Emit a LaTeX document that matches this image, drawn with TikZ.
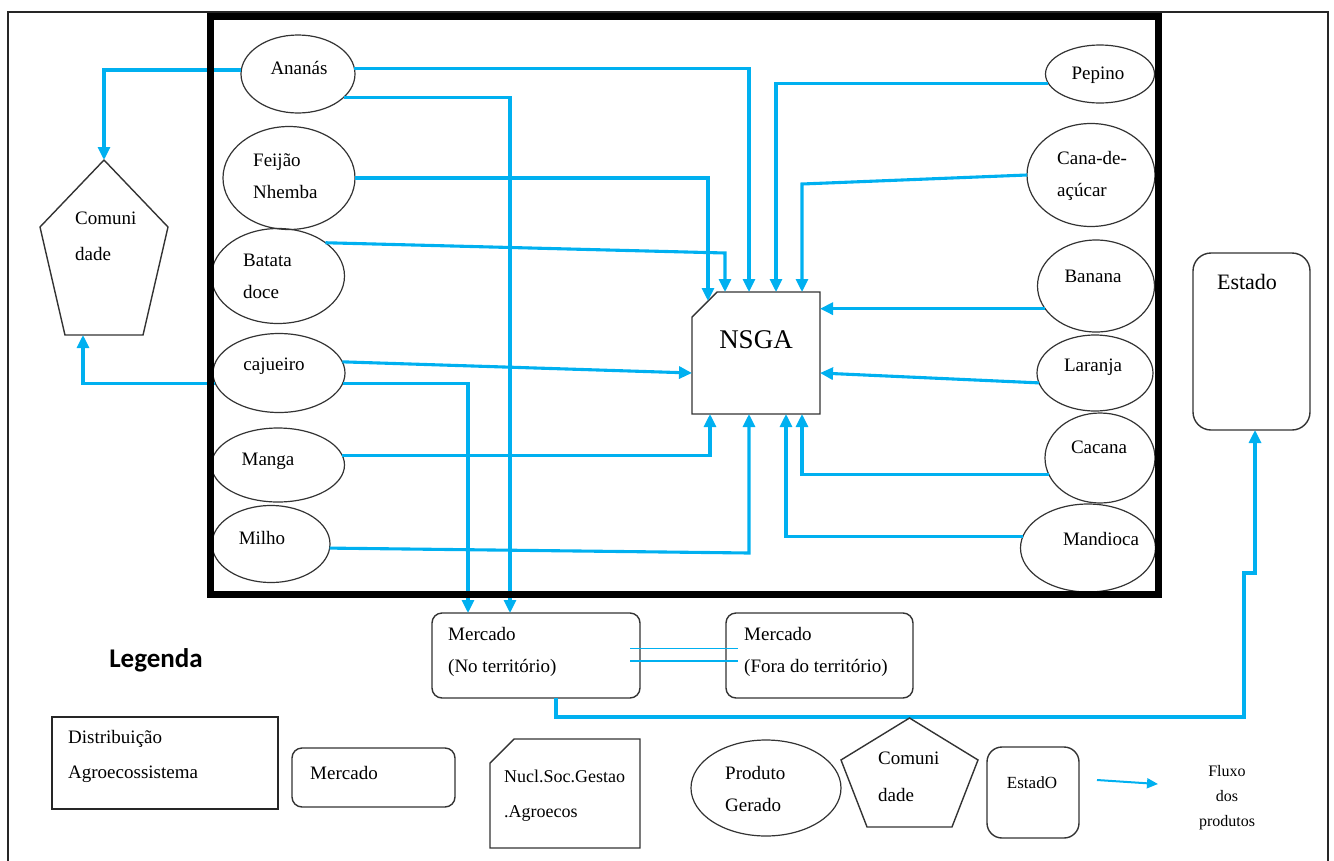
\documentclass[tikz,border=0pt]{standalone}
\usepackage{fontspec}
\setmainfont{Liberation Serif}
\newfontfamily\legfont{Carlito}
\usetikzlibrary{arrows.meta,calc,shapes.geometric}
\definecolor{flowblue}{HTML}{00B0F0}

\begin{document}
\begin{tikzpicture}[x=1pt, y=-1pt]
\tikzset{ >={Triangle[length=13pt,width=12pt]},
  flow/.style={->, draw=flowblue, line width=3.1pt},
  link/.style={draw=flowblue, line width=1.4pt},
  crop/.style={ellipse, draw=black!80, line width=1.2pt, inner sep=0pt, outer sep=0pt},
  rbox/.style={rectangle, rounded corners=10pt, draw=black!80, line width=1.4pt, inner sep=0pt, outer sep=0pt},
  hold/.style={rectangle, inner sep=0pt, outer sep=0pt},
  outline/.style={draw=black!80, line width=1.4pt},
  lbl/.style={font=\fontsize{19}{32}\selectfont, inner sep=0pt, align=left},
}

\useasboundingbox (0,0) rectangle (1334,860);
\draw [line width=1.2pt, black!85] (8,12) rectangle (1328,900);

% produtos do agroecossistema
\node [crop, minimum width=114pt, minimum height=78pt]  (ananas)   at (298,74)  {};
\node [crop, minimum width=132pt, minimum height=103pt] (feijao)   at (289,178) {};
\node [crop, minimum width=133pt, minimum height=95pt]  (batata)   at (278,276) {};
\node [crop, minimum width=132pt, minimum height=79pt]  (cajueiro) at (279,373) {};
\node [crop, minimum width=133pt, minimum height=74pt]  (manga)    at (278,465) {};
\node [crop, minimum width=118pt, minimum height=77pt]  (milho)    at (271,544) {};

\node [crop, minimum width=109pt, minimum height=58pt]  (pepino)   at (1100,74)  {};
\node [crop, minimum width=128pt, minimum height=103pt] (cana)     at (1091,175) {};
\node [crop, minimum width=117pt, minimum height=92pt]  (banana)   at (1096,286) {};
\node [crop, minimum width=116pt, minimum height=76pt]  (laranja)  at (1095,373) {};
\node [crop, minimum width=110pt, minimum height=90pt]  (cacana)   at (1100,458) {};
\node [crop, minimum width=135pt, minimum height=88pt]  (mandioca) at (1088,548) {};

\node [lbl] (ananas-t)   at (299,68)  {Ananás};
\node [lbl, anchor=west] (feijao-t) at (253,176) {Feijão\\Nhemba};
\node [lbl, anchor=west] (batata-t) at (243,276) {Batata\\doce};
\node [lbl] (cajueiro-t) at (274,366) {cajueiro};
\node [lbl] (manga-t)    at (268,461) {Manga};
\node [lbl] (milho-t)    at (262,538) {Milho};
\node [lbl] (pepino-t)   at (1098,75) {Pepino};
\node [lbl, anchor=west] (cana-t) at (1057,176) {Cana-de-\\açúcar};
\node [lbl] (banana-t)   at (1093,276) {Banana};
\node [lbl] (laranja-t)  at (1093,367) {Laranja};
\node [lbl] (cacana-t)   at (1099,447) {Cacana};
\node [lbl] (mandioca-t) at (1101,539) {Mandioca};

% NSGA
\node [hold, minimum width=128pt, minimum height=122pt] (nsga) at (756,353) {};
\draw [outline] ([xshift=25pt]nsga.north west) -- (nsga.north east) -- (nsga.south east)
  -- (nsga.south west) -- ([yshift=-25pt]nsga.north west) -- cycle;
\node [lbl, font=\fontsize{27}{32}\selectfont] (nsga-t) at ([yshift=13pt]nsga.center) {NSGA};

% comunidade
\node [hold, minimum width=128pt, minimum height=175pt] (comm) at (104,247.5) {};
\draw [outline] (comm.north) -- ($(comm.north east)!0.383!(comm.south east)$)
  -- ($(comm.south east)!0.195!(comm.south west)$) -- ($(comm.south west)!0.195!(comm.south east)$)
  -- ($(comm.north west)!0.383!(comm.south west)$) -- cycle;
\node [lbl, anchor=west, font=\fontsize{19}{36}\selectfont] (comm-t) at (75,236) {Comuni\\dade};

% mercados e estado
\node [rbox, minimum width=208pt, minimum height=85pt] (mktin)  at (536,655.5)   {};
\node [rbox, minimum width=187pt, minimum height=85pt] (mktout) at (819.5,655.5) {};
\node [rbox, rounded corners=18pt, minimum width=117pt, minimum height=177pt] (estado) at (1251.5,341.5) {};
\node [lbl, anchor=west] (mktin-t)  at (448,652) {Mercado\\(No território)};
\node [lbl, anchor=west] (mktout-t) at (744,652) {Mercado\\(Fora do território)};
\node [lbl, font=\fontsize{22}{26}\selectfont] (estado-t) at (1247,282) {Estado};

% fluxos
\draw [flow] (ananas.6)   -| ([xshift=-7pt]nsga.north);
\draw [flow] (ananas.-27) -| ([xshift=-26pt]mktin.north);
\draw [flow] (ananas.176) -| (comm.north);
\draw [flow] (feijao.east) -| ([xshift=-48pt,yshift=-9pt]nsga.north);
\draw [flow] (batata.35) -- ([xshift=-31pt,yshift=39pt]nsga.north) -- ([xshift=-31pt]nsga.north);
\draw [flow] (pepino.190) -| ([xshift=20pt]nsga.north);
\draw [flow] (cana.west) -- ([xshift=46pt,yshift=108pt]nsga.north) -- ([xshift=46pt]nsga.north);
\draw [flow] (banana.204) -- (banana.204 -| nsga.east);
\draw [flow] (laranja.190) -- ([yshift=-20pt]nsga.east);
\draw [flow] (cacana.198) -| ([xshift=46pt]nsga.south);
\draw [flow] (mandioca.170) -| ([xshift=30pt]nsga.south);
\draw [flow] (cajueiro.10) -- ([yshift=-20pt]nsga.west);
\draw [flow] (cajueiro.-9) -| ([xshift=-68pt]mktin.north);
\draw [flow] (cajueiro.189) -| ([xshift=-21pt]comm.south);
\draw [flow] (manga.8) -| ([xshift=-46pt]nsga.south);
\draw [flow] (milho.-4) -- ([xshift=-7pt,yshift=-139pt]nsga.south) -- ([xshift=-7pt]nsga.south);
\draw [link] ([xshift=-10pt,yshift=7pt]mktin.east) -- ([xshift=12pt,yshift=7pt]mktout.west);
\draw [link] ([xshift=-10pt,yshift=-5.5pt]mktin.east) -- ([xshift=12pt,yshift=-5.5pt]mktout.west);
\draw [flow] ([xshift=20pt]mktin.south) -- ++(0,19) -- ++(688,0) -- ++(0,-144) -- ++(11,0)
  -- ([xshift=3.5pt]estado.south);

\draw [line width=7pt] (210,16) rectangle (1158,594);

% legenda
\node [inner sep=0pt, font=\legfont\bfseries\fontsize{27}{30}\selectfont] (legenda) at (156,660) {Legenda};

\node [hold, draw=black!85, line width=1.4pt, minimum width=226pt, minimum height=92pt] (leg-dist) at (165,763) {};
\node [lbl, anchor=west, font=\fontsize{19}{35}\selectfont] (leg-dist-t) at (68,756.5) {Distribuição\\Agroecossistema};

\node [rbox, minimum width=163pt, minimum height=59pt] (leg-mkt) at (373.5,777.5) {};
\node [lbl] (leg-mkt-t) at (344,773) {Mercado};

\node [hold, minimum width=150pt, minimum height=109pt] (leg-nsga) at (565,793.5) {};
\draw [outline] ([xshift=24pt]leg-nsga.north west) -- (leg-nsga.north east) -- (leg-nsga.south east)
  -- (leg-nsga.south west) -- ([yshift=-24pt]leg-nsga.north west) -- cycle;
\node [lbl, anchor=west, font=\fontsize{18}{35}\selectfont] (leg-nsga-t) at (504,795.5) {Nucl.Soc.Gestao\\.Agroecos};

\node [crop, minimum width=150pt, minimum height=96pt] (leg-prod) at (766,788) {};
\node [lbl, anchor=west] (leg-prod-t) at (725,789) {Produto\\Gerado};

\node [hold, minimum width=137pt, minimum height=109pt] (leg-comm) at (909.5,772.5) {};
\draw [outline] (leg-comm.north) -- ($(leg-comm.north east)!0.385!(leg-comm.south east)$)
  -- ($(leg-comm.south east)!0.19!(leg-comm.south west)$) -- ($(leg-comm.south west)!0.19!(leg-comm.south east)$)
  -- ($(leg-comm.north west)!0.385!(leg-comm.south west)$) -- cycle;
\node [lbl, anchor=west, font=\fontsize{19}{37}\selectfont] (leg-comm-t) at (878,776.5) {Comuni\\dade};

\node [rbox, rounded corners=15pt, minimum width=92pt, minimum height=91pt] (leg-est) at (1033,792.5) {};
\node [lbl, font=\fontsize{17}{20}\selectfont] (leg-est-t) at (1032,783) {EstadO};

\coordinate (leg-a) at (1097,780);
\coordinate (leg-b) at (1158,784);
\draw [flow, line width=2pt, -{Triangle[length=11pt,width=10pt]}] (leg-a) -- (leg-b);
\node [lbl, align=center, font=\fontsize{16}{25}\selectfont] (leg-flux-t) at (1227,798) {Fluxo\\dos\\produtos};

\end{tikzpicture}
\end{document}
